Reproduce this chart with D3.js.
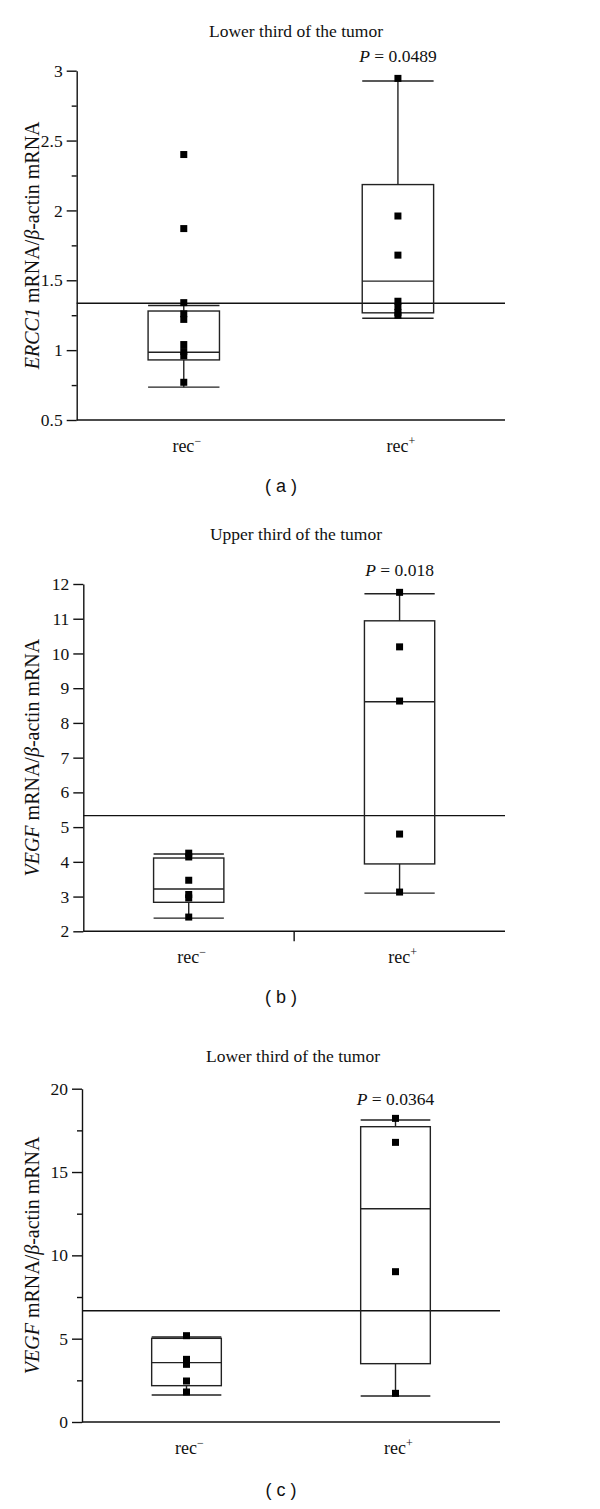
<!DOCTYPE html>
<html>
<head>
<meta charset="utf-8">
<script src="https://cdn.jsdelivr.net/npm/d3@7"></script>
<style>
  body { margin: 0; background: #fff; }
  svg text { font-family: "Liberation Serif", "Times New Roman", serif; fill: #111; }
  .caption { font-family: "Liberation Sans", Arial, sans-serif; }
</style>
</head>
<body>
<svg id="chart" width="600" height="1509"></svg>
<script>
var groups = ['rec', 'rec']
var groupSigns = ['\u2212', '+']

// (a) ERCC1, lower third of the tumor
var aTitle = 'Lower third of the tumor'
var aP = '0.0489'
var aGene = 'ERCC1'
var aPoints = [[2.40, 1.87, 1.34, 1.26, 1.22, 1.04, 0.99, 0.96, 0.77], [2.945, 1.96, 1.68, 1.35, 1.31, 1.27, 1.25]]
// low whisker, q1, median, q3, high whisker
var aBoxes = [[0.735, 0.93, 0.985, 1.28, 1.32], [1.228, 1.267, 1.494, 2.185, 2.926]]
var aCutoff = 1.336
var aTicks = [0.5, 1, 1.5, 2, 2.5, 3]
var aMinor = [0.75, 1.25, 1.75, 2.25, 2.75]

// (b) VEGF, upper third of the tumor
var bTitle = 'Upper third of the tumor'
var bP = '0.018'
var bGene = 'VEGF'
var bPoints = [[4.25, 4.14, 3.47, 3.06, 2.96, 2.41], [11.76, 10.19, 8.63, 4.80, 3.13]]
var bBoxes = [[2.38, 2.835, 3.22, 4.11, 4.225], [3.10, 3.94, 8.61, 10.94, 11.72]]
var bCutoff = 5.33
var bTicks = [2, 3, 4, 5, 6, 7, 8, 9, 10, 11, 12]
var bMinor = []

// (c) VEGF, lower third of the tumor
var cTitle = 'Lower third of the tumor'
var cP = '0.0364'
var cGene = 'VEGF'
var cPoints = [[5.18, 3.76, 3.46, 2.46, 1.80], [18.22, 16.78, 9.02, 1.72]]
var cBoxes = [[1.62, 2.18, 3.56, 5.02, 5.10], [1.56, 3.50, 12.8, 17.72, 18.12]]
var cCutoff = 6.68
var cTicks = [0, 5, 10, 15, 20]
var cMinor = [2.5, 7.5, 12.5, 17.5]

var svg = d3.select('#chart')

var drawPanel = function(p) {
  var g = svg.append('g')
    , x = d3.scaleBand().domain([0, 1]).range([p.left, p.right])
    , y = d3.scaleLinear().domain([p.ticks[0], p.ticks[p.ticks.length - 1]]).range([p.bottom, p.top])
    , bw = x.bandwidth() / 3

  // y axis, major and minor ticks
  var yAxis = g.append('g')
    .attr('transform', 'translate(' + p.left + ',0)')
    .call(d3.axisLeft(y).tickValues(p.ticks).tickSize(10).tickSizeOuter(0).tickPadding(4)
      .tickFormat(function(d) { return d }))
  yAxis.selectAll('text').style('font-size', '17.5px').attr('font-family', null)
  yAxis.selectAll('path, line').attr('stroke', '#111').attr('stroke-width', 1.4)
  if (p.minor.length) {
    g.append('g')
      .attr('transform', 'translate(' + p.left + ',0)')
      .call(d3.axisLeft(y).tickValues(p.minor).tickSize(5).tickFormat(''))
      .call(function(s) { s.select('.domain').remove() })
      .selectAll('line').attr('stroke', '#111').attr('stroke-width', 1.4)
  }

  // x axis line
  g.append('line')
    .attr('x1', p.left).attr('x2', p.right)
    .attr('y1', p.bottom).attr('y2', p.bottom)
    .attr('stroke', '#111').attr('stroke-width', 1.6)
  if (p.midTick) {
    var mid = (p.left + p.right) / 2
    g.append('line')
      .attr('x1', mid).attr('x2', mid)
      .attr('y1', p.bottom).attr('y2', p.bottom + 10)
      .attr('stroke', '#111').attr('stroke-width', 1.4)
  }

  // cutoff line
  g.append('line')
    .attr('x1', p.left).attr('x2', p.right)
    .attr('y1', y(p.cutoff)).attr('y2', y(p.cutoff))
    .attr('stroke', '#111').attr('stroke-width', 1.4)

  // boxes
  p.boxes.forEach(function(b, i) {
    var cx = x(i) + x.bandwidth() / 2
      , bg = g.append('g').attr('stroke', '#222').attr('stroke-width', 1.4).attr('fill', 'none')
    bg.append('line').attr('x1', cx).attr('x2', cx).attr('y1', y(b[3])).attr('y2', y(b[4]))
    bg.append('line').attr('x1', cx).attr('x2', cx).attr('y1', y(b[1])).attr('y2', y(b[0]))
    bg.append('rect')
      .attr('x', cx - bw / 2).attr('width', bw)
      .attr('y', y(b[3])).attr('height', y(b[1]) - y(b[3]))
    ;[0, 2, 4].forEach(function(k) {
      bg.append('line').attr('x1', cx - bw / 2).attr('x2', cx + bw / 2)
        .attr('y1', y(b[k])).attr('y2', y(b[k]))
    })
  })

  // data points
  p.points.forEach(function(pts, i) {
    var cx = x(i) + x.bandwidth() / 2
    g.selectAll(null).data(pts).enter().append('rect')
      .attr('x', cx - 3.5).attr('width', 7)
      .attr('y', function(d) { return y(d) - 3.5 }).attr('height', 7)
      .attr('fill', '#000')
  })

  // group labels
  groups.forEach(function(name, i) {
    var t = g.append('text')
      .attr('x', x(i) + x.bandwidth() / 2 + 3).attr('y', p.bottom + 32)
      .attr('text-anchor', 'middle').style('font-size', '18px')
    t.append('tspan').text(name)
    t.append('tspan').attr('dy', -7).style('font-size', '12px').text(groupSigns[i])
  })

  // title and P value
  g.append('text')
    .attr('x', p.titleX).attr('y', p.titleY)
    .attr('text-anchor', 'middle').style('font-size', '17.5px')
    .text(p.title)
  var pt = g.append('text')
    .attr('x', x(1) + x.bandwidth() / 2).attr('y', p.pY)
    .attr('text-anchor', 'middle').style('font-size', '17.5px')
  pt.append('tspan').style('font-style', 'italic').text('P')
  pt.append('tspan').text(' = ' + p.pValue)

  // y label
  var yl = g.append('text')
    .attr('transform', 'translate(39,' + (p.top + p.bottom) / 2 + ') rotate(-90)')
    .attr('text-anchor', 'middle').style('font-size', '20px')
  yl.append('tspan').style('font-style', 'italic').text(p.gene)
  yl.append('tspan').text(' mRNA/')
  yl.append('tspan').style('font-style', 'italic').text('\u03b2')
  yl.append('tspan').text('-actin mRNA')

  // caption
  g.append('text').attr('class', 'caption')
    .attr('x', 281).attr('y', p.captionY)
    .attr('text-anchor', 'middle').style('font-size', '18px')
    .text('( ' + p.letter + ' )')
}

drawPanel({ title: aTitle, pValue: aP, gene: aGene, points: aPoints, boxes: aBoxes, cutoff: aCutoff,
  ticks: aTicks, minor: aMinor, left: 76.7, right: 505, top: 70.7, bottom: 420,
  titleX: 296, titleY: 37, pY: 62, captionY: 492, letter: 'a', midTick: false })
drawPanel({ title: bTitle, pValue: bP, gene: bGene, points: bPoints, boxes: bBoxes, cutoff: bCutoff,
  ticks: bTicks, minor: bMinor, left: 83.3, right: 505, top: 584, bottom: 931.3,
  titleX: 296, titleY: 540, pY: 576, captionY: 1003, letter: 'b', midTick: true })
drawPanel({ title: cTitle, pValue: cP, gene: cGene, points: cPoints, boxes: cBoxes, cutoff: cCutoff,
  ticks: cTicks, minor: cMinor, left: 82, right: 500, top: 1088.7, bottom: 1422,
  titleX: 293, titleY: 1062, pY: 1105, captionY: 1496, letter: 'c', midTick: false })
</script>
</body>
</html>
